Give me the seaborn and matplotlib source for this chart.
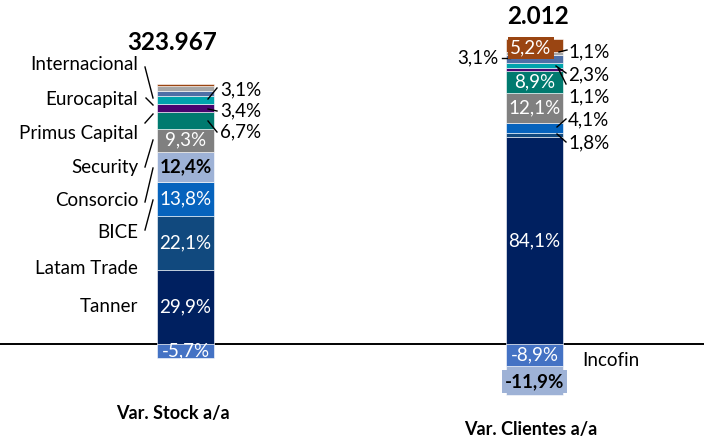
import numpy as np
import pandas as pd
import seaborn as sns
import matplotlib.pyplot as plt

# data, bottom -> top (positives), negatives stack downward starting with Incofin
metrics = ["Var. Stock a/a", "Var. Clientes a/a"]
companies = ["Tanner", "Latam Trade", "BICE", "Consorcio", "Security", "Primus Capital",
             "Eurocapital", "Internacional", "Otros 1", "Otros 2", "Otros 3", "Incofin"]
stock = [29.9, 22.1, 13.8, 12.4, 9.3, 6.7, 3.4, 3.1, 2.0, 2.3, 0.8, -5.7]
clientes = [84.1, 1.8, 4.1, -11.9, 12.1, 8.9, 1.1, 2.3, 3.1, 1.1, 5.2, -8.9]
colors = ["#002060", "#11497E", "#0663BD", "#9EB2D6", "#808080", "#007A6F",
          "#48046F", "#00A3AC", "#4E6FA6", "#A6A6A6", "#9A4512", "#4472C4"]
totals = ["323.967", "2.012"]

# labels printed on the bars (None = no label inside)
stock_lbl = ["29,9%", "22,1%", "13,8%", "12,4%", "9,3%", None, None, None, None, None, None, "-5,7%"]
clientes_lbl = ["84,1%", None, None, "-11,9%", "12,1%", "8,9%", None, None, None, None, "5,2%", "-8,9%"]

df = pd.DataFrame({
    "empresa": companies * 2,
    "metrica": np.repeat(metrics, len(companies)),
    "valor": stock + clientes,
    "etiqueta": stock_lbl + clientes_lbl,
})

# stacking bases
bases = []
for m in metrics:
    sub = df[df.metrica == m]
    pos, neg = 0.0, 0.0
    b = {}
    for i, v in zip(sub.index, sub.valor):
        if v >= 0:
            b[i] = pos
            pos += v
    for i, v in zip(sub.index[::-1], sub.valor[::-1]):
        if v < 0:
            b[i] = neg
            neg += v
    bases.append(pd.Series(b))
df["base"] = pd.concat(bases)
df["centro"] = df.base + df.valor / 2

plt.rcParams["font.family"] = ["Lato", "DejaVu Sans"]
FS = 13.5

fig = plt.figure(figsize=(7.04, 4.43), dpi=100)
ax = fig.add_axes([0, 0, 1, 1])

bar_w = 0.163
for emp, col in zip(companies, colors):
    sub = df[df.empresa == emp].set_index("metrica").loc[metrics]
    sns.barplot(x=metrics, y=sub["valor"].values, order=metrics, color=col, saturation=1,
                width=bar_w, bottom=sub["base"].values, edgecolor="white", linewidth=0.4,
                errorbar=None, ax=ax)


# pixel -> data helper for annotation placement
def px(x, y):
    return (x - 185.5) / 349, (344 - y) / 2.46


x0, _ = px(0, 0)
x1, _ = px(704, 0)
_, y0 = px(0, 443)
_, y1 = px(0, 0)
ax.set_xlim(x0, x1)
ax.set_ylim(y0, y1)
ax.axis("off")
ax.axhline(0, color="black", lw=1.4, zorder=0.5)

# labels inside bars
for _, r in df.dropna(subset=["etiqueta"]).iterrows():
    xi = metrics.index(r.metrica)
    if r.empresa == "Consorcio":
        # bold dark text on the light segment (boxed when it hangs below)
        box = dict(boxstyle="square,pad=0.15", fc="#9EB2D6", ec="none") if r.valor < 0 else None
        ax.text(xi, r.centro - (0.3 if r.valor < 0 else 0), r.etiqueta, ha="center",
                va="center", fontsize=FS, fontweight="bold", color="black", bbox=box)
    elif r.empresa == "Otros 3":
        ax.text(xi - 0.01, r.centro - 0.8, r.etiqueta, ha="center", va="center", fontsize=FS,
                color="white", bbox=dict(boxstyle="square,pad=0.12", fc="#9A4512", ec="none"))
    else:
        ax.text(xi, r.centro, r.etiqueta, ha="center", va="center", fontsize=FS, color="white")

# totals
ax.text(*px(172, 42), totals[0], ha="center", va="center", fontsize=17.5, fontweight="bold")
ax.text(*px(538, 17), totals[1], ha="center", va="center", fontsize=17.5, fontweight="bold")

# category titles
ax.text(*px(173, 413), metrics[0], ha="center", va="center", fontsize=13, fontweight="bold")
ax.text(*px(531, 430), metrics[1], ha="center", va="center", fontsize=13, fontweight="bold")

# company names on the left
left_names = ["Internacional", "Eurocapital", "Primus Capital", "Security",
              "Consorcio", "BICE", "Latam Trade", "Tanner"]
left_y = [65, 100, 133, 167, 200, 233, 268, 306]
for name, yy in zip(left_names, left_y):
    ax.text(*px(138, yy), name, ha="right", va="center", fontsize=FS)
ax.text(*px(582, 360), "Incofin", ha="left", va="center", fontsize=FS)

# outside percentage labels
out_lbls = [("3,1%", 220, 90, "left"), ("3,4%", 220, 111, "left"), ("6,7%", 220, 132, "left"),
            ("3,1%", 498, 58, "right"), ("1,1%", 568, 52, "left"), ("2,3%", 568, 75, "left"),
            ("1,1%", 568, 97, "left"), ("4,1%", 568, 120, "left"), ("1,8%", 568, 143, "left")]
for t, xx, yy, ha in out_lbls:
    ax.text(*px(xx, yy), t, ha=ha, va="center", fontsize=FS)

# leader lines
leaders = [((145, 67), (153, 98)), ((146, 98), (153, 105)), ((145, 123), (153, 114)),
           ((145, 167), (153, 140)), ((145, 202), (153, 168)), ((145, 230), (153, 200)),
           ((208, 99), (217, 88)), ((208, 109), (217, 111)), ((208, 121), (217, 132)),
           ((502, 58), (510, 58)), ((559, 52), (567, 50)), ((556, 66), (566, 73)),
           ((558, 68), (566, 84)), ((557, 127), (566, 119)), ((557, 134), (566, 142))]
for a, b in leaders:
    xa, ya = px(*a)
    xb, yb = px(*b)
    ax.plot([xa, xb], [ya, yb], color="black", lw=1)

fig.savefig("out.png", dpi=100)
